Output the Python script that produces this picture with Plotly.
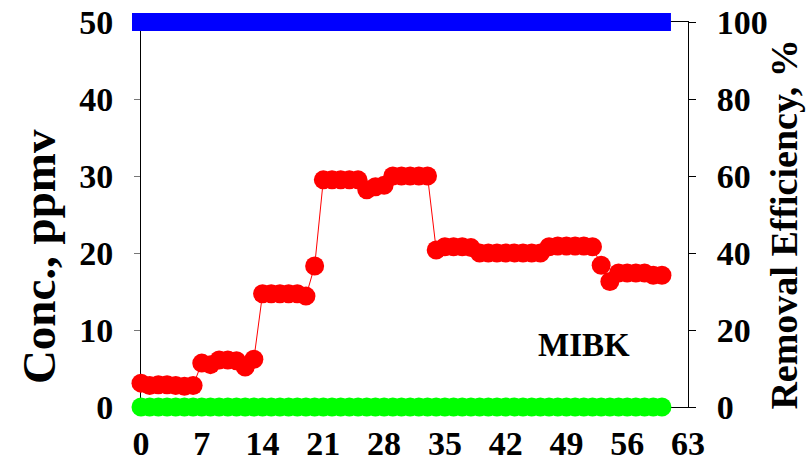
import plotly.graph_objects as go

# Operating days and measured concentrations
days = list(range(0, 61))
inlet_conc = [3.1, 2.8, 2.9, 2.9, 2.8, 2.7, 2.8,
              5.7, 5.5, 6.1, 6.1, 6.0, 5.2, 6.2,
              14.7, 14.7, 14.7, 14.7, 14.7, 14.4,
              18.3,
              29.5, 29.5, 29.5, 29.5, 29.5,
              28.2, 28.6, 28.8,
              30.0, 30.0, 30.0, 30.0, 30.0,
              20.4, 20.8, 20.8, 20.8, 20.7,
              20.0, 20.0, 20.0, 20.0, 20.0, 20.0, 20.0, 20.0,
              20.8, 20.9, 20.9, 20.9, 20.9, 20.8,
              18.4, 16.3,
              17.4, 17.4, 17.4, 17.4,
              17.1, 17.1]
outlet_conc = [0.0] * 61
removal_eff = [100.0] * 61

x_ticks = [0, 7, 14, 21, 28, 35, 42, 49, 56, 63]
left_ticks = [0, 10, 20, 30, 40, 50]
right_ticks = [0, 20, 40, 60, 80, 100]

FONT = "Liberation Serif"
tick_font = dict(family=FONT, size=34, color="black", weight="bold")

fig = go.Figure()

fig.add_trace(go.Scatter(
    x=days, y=outlet_conc, mode="markers",
    marker=dict(color="#00FF00", size=19, symbol="circle"),
    cliponaxis=False, showlegend=False,
))
fig.add_trace(go.Scatter(
    x=days, y=inlet_conc, mode="lines+markers",
    line=dict(color="#FF0000", width=1),
    marker=dict(color="#FF0000", size=19, symbol="circle"),
    cliponaxis=False, showlegend=False,
))
fig.add_trace(go.Scatter(
    x=days, y=removal_eff, mode="markers", yaxis="y2",
    marker=dict(color="#0000FF", size=18, symbol="square"),
    cliponaxis=False, showlegend=False,
))

fig.update_layout(
    width=811, height=471,
    margin=dict(l=141, r=123, t=22, b=64),
    plot_bgcolor="white", paper_bgcolor="white",
    showlegend=False,
    xaxis=dict(
        range=[0, 63], tickvals=x_ticks, ticks="",
        showline=True, linecolor="black", linewidth=1, mirror=True,
        showgrid=False, zeroline=False, tickfont=tick_font,
        automargin=False, ticklabelstandoff=6, layer="below traces",
    ),
    yaxis=dict(
        range=[0, 50], tickvals=left_ticks, ticks="outside", ticklen=6,
        tickcolor="#777777", showline=True, linecolor="black", linewidth=1,
        showgrid=False, zeroline=False, tickfont=tick_font,
        automargin=False, ticklabelstandoff=14, layer="below traces",
    ),
    yaxis2=dict(
        range=[0, 100], tickvals=right_ticks, ticks="outside", ticklen=7,
        tickcolor="black", overlaying="y", side="right",
        showline=True, linecolor="black", linewidth=1,
        showgrid=False, zeroline=False, tickfont=tick_font,
        automargin=False, ticklabelstandoff=14, layer="below traces",
    ),
    annotations=[
        dict(text="MIBK", x=51.0, y=8.0, xref="x", yref="y",
             showarrow=False, xanchor="center", yanchor="middle",
             font=dict(family=FONT, size=33, color="black", weight="bold")),
        dict(text="Conc., ppmv", x=-0.186, y=0.39, xref="paper", yref="paper",
             textangle=-90, showarrow=False, xanchor="center", yanchor="middle",
             font=dict(family=FONT, size=47, color="black", weight="bold")),
        dict(text="Removal Efficiency, %", x=1.175, y=0.473, xref="paper", yref="paper",
             textangle=-90, showarrow=False, xanchor="center", yanchor="middle",
             font=dict(family=FONT, size=38, color="black", weight="bold")),
    ],
)

fig.write_html("out.html")
